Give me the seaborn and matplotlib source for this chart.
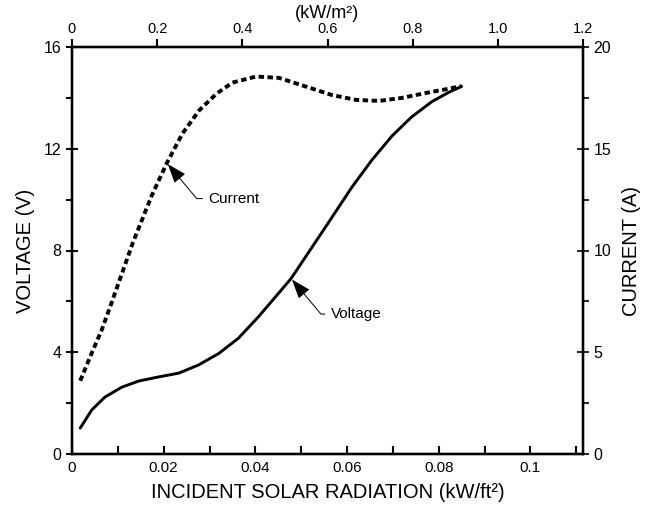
import numpy as np
import pandas as pd
import seaborn as sns
import matplotlib.pyplot as plt
from matplotlib.ticker import MultipleLocator, FixedLocator, FixedFormatter

# values
voltage_x = [0.0018, 0.0043, 0.0072, 0.0109, 0.0146, 0.0189, 0.0233, 0.0276, 0.032, 0.0363,
             0.0407, 0.0445, 0.0478, 0.0517, 0.0567, 0.0611, 0.0654, 0.0698, 0.0741, 0.0785,
             0.0822, 0.085]
voltage_v = [1.02, 1.73, 2.24, 2.63, 2.87, 3.03, 3.18, 3.5, 3.95, 4.55,
             5.4, 6.2, 6.9, 7.95, 9.3, 10.5, 11.55, 12.5, 13.25, 13.85,
             14.22, 14.45]

current_x = [0.0018, 0.0043, 0.0065, 0.0089, 0.0133, 0.0174, 0.0207, 0.0241, 0.0278, 0.0315,
             0.035, 0.0402, 0.0452, 0.0511, 0.0567, 0.062, 0.067, 0.072, 0.0772, 0.0815,
             0.085]
current_a = [3.6, 4.96, 6.1, 7.6, 10.4, 12.7, 14.3, 15.75, 16.9, 17.7,
             18.25, 18.55, 18.48, 18.05, 17.64, 17.4, 17.35, 17.5, 17.74, 17.92,
             18.08]

bottom_ticks = [0, 0.02, 0.04, 0.06, 0.08, 0.1]
bottom_labels = ["0", "0.02", "0.04", "0.06", "0.08", "0.1"]
top_ticks = [0, 0.2, 0.4, 0.6, 0.8, 1.0, 1.2]
top_labels = ["0", "0.2", "0.4", "0.6", "0.8", "1.0", "1.2"]

FT2_PER_M2 = 10.764

sns.set_theme(style="ticks")
plt.rcParams['font.family'] = ['Liberation Sans', 'DejaVu Sans']
plt.rcParams['axes.linewidth'] = 1.6
plt.rcParams['text.color'] = 'black'
plt.rcParams['axes.labelcolor'] = 'black'
plt.rcParams['xtick.color'] = 'black'
plt.rcParams['ytick.color'] = 'black'
plt.rcParams['axes.edgecolor'] = 'black'

volt = pd.DataFrame({"x": voltage_x, "v": voltage_v})
curr = pd.DataFrame({"x": current_x, "a": current_a})

fig = plt.figure(figsize=(6.6, 5.08), dpi=100)
ax = fig.add_axes([72 / 660, 1 - 454 / 508, 511 / 660, 407 / 508])
ax2 = ax.twinx()
ax3 = ax.twiny()

sns.lineplot(data=volt, x="x", y="v", ax=ax, color="black", linewidth=2.1)
sns.lineplot(data=curr, x="x", y="a", ax=ax2, color="black", linewidth=2.8)
ax2.lines[0].set_dashes((1.4, 0.9))

xmax = 1.2 / FT2_PER_M2
ax.set_xlim(0, xmax)
ax.set_ylim(0, 16)
ax2.set_ylim(0, 20)
ax3.set_xlim(0, 1.2)

ax.xaxis.set_major_locator(FixedLocator(bottom_ticks))
ax.xaxis.set_major_formatter(FixedFormatter(bottom_labels))
ax.xaxis.set_minor_locator(MultipleLocator(0.01))
ax.yaxis.set_major_locator(MultipleLocator(4))
ax.yaxis.set_minor_locator(MultipleLocator(2))
ax2.yaxis.set_major_locator(MultipleLocator(5))
ax2.yaxis.set_minor_locator(MultipleLocator(2.5))
ax3.xaxis.set_major_locator(FixedLocator(top_ticks))
ax3.xaxis.set_major_formatter(FixedFormatter(top_labels))

ax.tick_params(axis="x", which="major", direction="in", length=6, width=1.5, labelsize=11, pad=5)
ax.tick_params(axis="x", which="minor", direction="in", length=6, width=1.5)
ax.tick_params(axis="y", which="major", direction="inout", length=8, width=1.5, labelsize=11.5)
ax.tick_params(axis="y", which="minor", direction="out", length=4, width=1.5)
ax2.tick_params(axis="y", which="major", direction="inout", length=8, width=1.2, labelsize=11.5)
ax2.tick_params(axis="y", which="minor", direction="out", length=4, width=1.2)
ax3.tick_params(axis="x", direction="out", length=6, width=1.5, labelsize=10.5, pad=2)

ax3.set_xlabel("(kW/m\u00b2)", fontsize=13, labelpad=3)
ax.set_xlabel("INCIDENT SOLAR RADIATION (kW/ft\u00b2)", fontsize=14.5, labelpad=6)
ax.set_ylabel("VOLTAGE (V)", fontsize=14.5, labelpad=6)
ax2.set_ylabel("CURRENT (A)", fontsize=14.5, labelpad=8)

for a in (ax, ax2, ax3):
    for s in a.spines.values():
        s.set_linewidth(1.6)

arrow = dict(arrowstyle="-|>,head_length=1.1,head_width=0.4", color="black",
             lw=0.7, shrinkA=2, shrinkB=1,
             connectionstyle="angle,angleA=180,angleB=-50,rad=0")
ax2.annotate("Current", xy=(0.0207, 14.3), xytext=(0.0298, 12.55),
             fontsize=11, va="center", ha="left", arrowprops=arrow)
ax.annotate("Voltage", xy=(0.0478, 6.9), xytext=(0.0565, 5.5),
            fontsize=11, va="center", ha="left", arrowprops=arrow)

fig.savefig("out.png", dpi=100)
